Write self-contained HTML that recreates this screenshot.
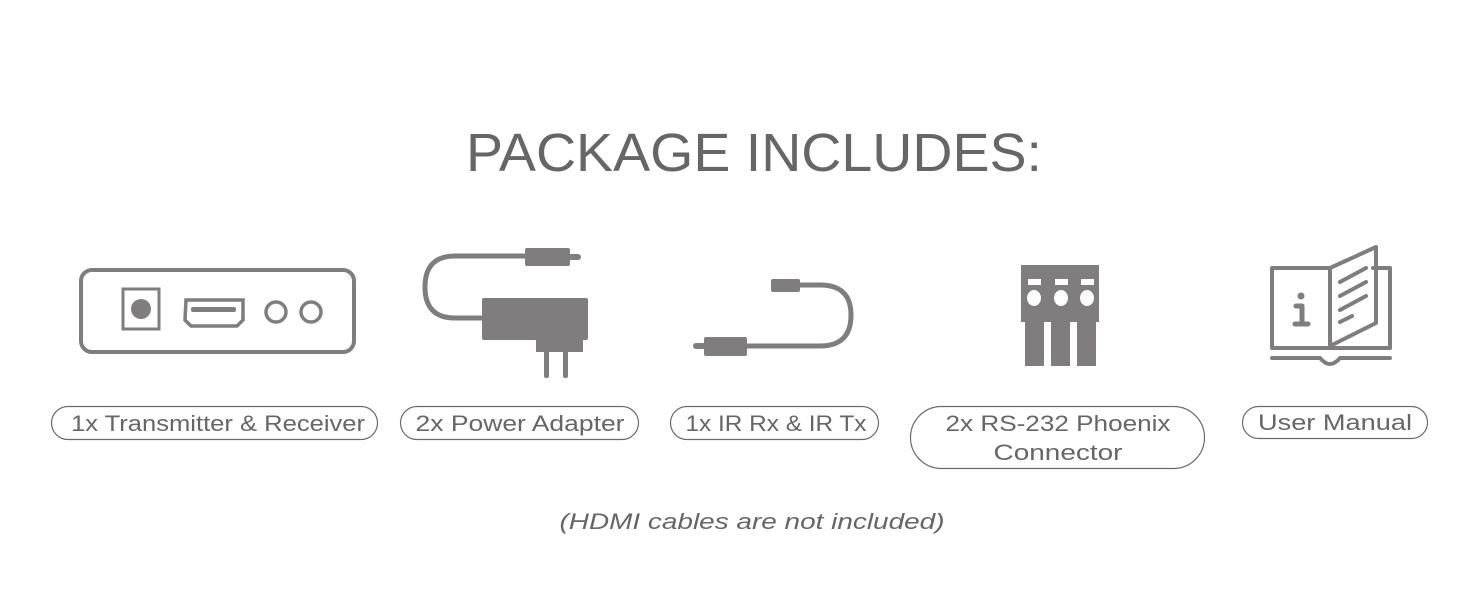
<!DOCTYPE html>
<html><head><meta charset="utf-8"><style>
html,body{margin:0;padding:0;background:#fff;width:1464px;height:600px;overflow:hidden}
svg{display:block}
text{font-family:"Liberation Sans",sans-serif;fill:#666}
</style></head><body>
<svg width="1464" height="600" viewBox="0 0 1464 600">
<text x="754" y="171" font-size="54" text-anchor="middle" textLength="576" lengthAdjust="spacingAndGlyphs">PACKAGE INCLUDES:</text>
<g fill="none" stroke="#7f7d7e" stroke-width="4">
<rect x="81" y="270" width="273" height="82" rx="11"/>
<rect x="123" y="289" width="36" height="40" stroke-width="3"/>
<path d="M186 300 H243 V320 L237 326 H191 L185 320 Z" stroke-width="3.5"/>
<circle cx="276" cy="312" r="10" stroke-width="3.5"/>
<circle cx="311" cy="312" r="10" stroke-width="3.5"/>
<path d="M528 256 H455 Q425 256 425 287 Q425 318 455 318 H484" stroke-width="5"/>
<path d="M799 285 H820 Q851 285 851 315 Q851 346 820 346 H746" stroke-width="5"/>
</g>
<g fill="#7f7d7e">
<circle cx="141" cy="309" r="10"/>
<rect x="191" y="307" width="45" height="5" rx="2"/>
<rect x="525" y="248" width="45" height="18" rx="2"/>
<rect x="568" y="254" width="13" height="6" rx="3"/>
<rect x="482" y="298" width="106" height="42" rx="2"/>
<rect x="536" y="336" width="47" height="16"/>
<rect x="544" y="350" width="5" height="28" rx="2"/>
<rect x="563" y="350" width="5" height="28" rx="2"/>
<rect x="771" y="279" width="29" height="13" rx="2"/>
<rect x="704" y="337" width="43" height="19" rx="2"/>
<rect x="693" y="343" width="13" height="6" rx="3"/>
<path d="M1021 265 H1099 V322 H1021 Z"/>
<rect x="1025" y="322" width="19" height="44"/>
<rect x="1051" y="322" width="19" height="44"/>
<rect x="1077" y="322" width="19" height="44"/>
</g>
<g fill="#fff">
<rect x="1028" y="279" width="13" height="6"/><rect x="1055" y="279" width="13" height="6"/><rect x="1081" y="279" width="13" height="6"/>
<ellipse cx="1034" cy="298" rx="7" ry="8"/><ellipse cx="1061" cy="298" rx="7" ry="8"/><ellipse cx="1087" cy="298" rx="7" ry="8"/>
</g>
<g fill="none" stroke="#7f7d7e" stroke-width="4" stroke-linecap="round" stroke-linejoin="round">
<path d="M1329 348 H1272 V268 H1330"/>
<path d="M1373 268 H1390 V348 H1329"/>
<path d="M1330 268 V346 L1376 323 V247 Z"/>
<path d="M1340 282 L1366 268 M1340 296 L1366 282 M1340 310 L1366 296 M1340 322 L1352 316"/>
<path d="M1272 358 H1320 Q1325 364 1330 364 Q1335 364 1340 358 H1390"/>
<path d="M1296 306 H1302 V324 M1295 324 H1308" stroke-width="5"/>
</g>
<circle cx="1301" cy="296" r="3.5" fill="#7f7d7e"/>
<g fill="none" stroke="#6a6a6a" stroke-width="1.2">
<rect x="51.5" y="406.5" width="326" height="33" rx="16.5"/>
<rect x="400.5" y="406.5" width="238" height="33" rx="16.5"/>
<rect x="670.5" y="406.5" width="208" height="33" rx="16.5"/>
<rect x="910.5" y="406.5" width="294" height="62" rx="31"/>
<rect x="1242.5" y="406.5" width="185" height="32" rx="16"/>
</g>
<g font-size="22" text-anchor="middle">
<text x="218" y="431" textLength="294" lengthAdjust="spacingAndGlyphs">1x Transmitter &amp; Receiver</text>
<text x="520" y="431" textLength="209" lengthAdjust="spacingAndGlyphs">2x Power Adapter</text>
<text x="776" y="431" textLength="181" lengthAdjust="spacingAndGlyphs">1x IR Rx &amp; IR Tx</text>
<text x="1058" y="431" textLength="225" lengthAdjust="spacingAndGlyphs">2x RS-232 Phoenix</text>
<text x="1058" y="460" textLength="129" lengthAdjust="spacingAndGlyphs">Connector</text>
<text x="1335" y="430" textLength="154" lengthAdjust="spacingAndGlyphs">User Manual</text>
<text x="752" y="529" font-style="italic" fill="#777" textLength="385" lengthAdjust="spacingAndGlyphs">(HDMI cables are not included)</text>
</g>
</svg>
</body></html>
